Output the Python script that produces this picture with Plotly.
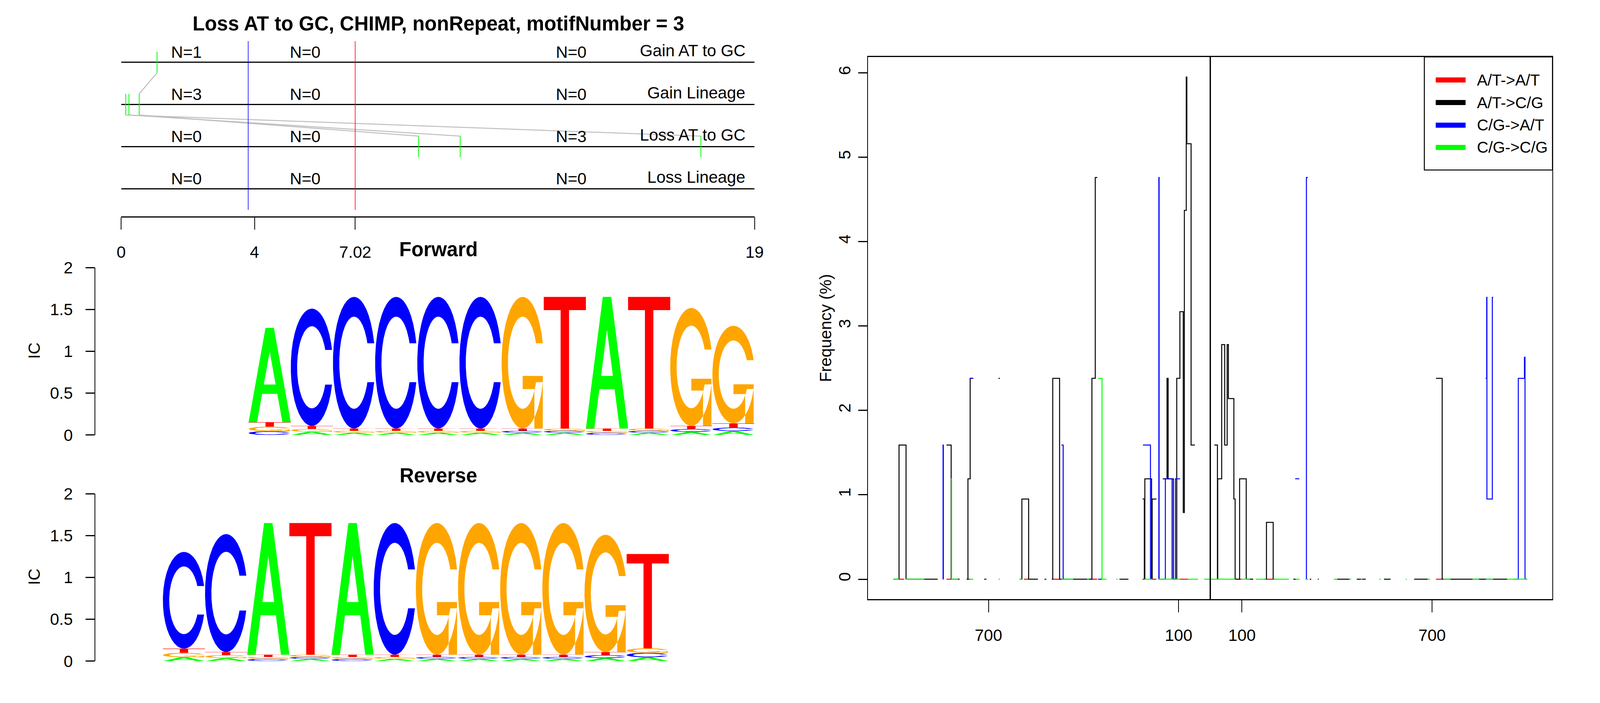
import numpy as np
import plotly.graph_objects as go

# the browser shows at most 4096 px in width, so the page is drawn to fill that
# window; every position below was read from the 5400x1800 original
REF_W, REF_H = 5400, 1800
FIG_W, FIG_H = 4080, 1784
SX, SY = FIG_W / REF_W, FIG_H / REF_H
FS = 0.88
FONT = "Liberation Sans, Arial, Helvetica, sans-serif"

# ---------------- top panel: events along the motif ----------------
row_names = ["Gain AT to GC", "Gain Lineage", "Loss AT to GC", "Loss Lineage"]
row_y = [4, 3, 2, 1]
n_counts = [[1, 0, 0], [3, 0, 0], [0, 0, 3], [0, 0, 0]]
n_text_x = [1.96, 5.52, 13.5]
site_x = [[1.075], [0.136, 0.233, 0.54], [8.92, 10.17, 17.39], []]
link_from_x = [1.075, 0.136, 0.233, 0.54]
link_from_row = [4, 3, 3, 3]
link_to_x = [0.54, 17.39, 10.17, 8.92]
link_to_row = [3, 2, 2, 2]
axis_ticks = [0, 4, 7.02, 19]
axis_labels = ["0", "4", "7.02", "19"]
motif_start = 3.81
motif_split = 7.02

# ---------------- sequence logos (bottom -> top stacks) ----------------
fwd_letters = ["CGTA", "AGTC", "AGTC", "AGTC", "AGTC", "AGTC",
               "ACTG", "ACGT", "CGTA", "ACGT", "ACTG", "ACTG"]
fwd_heights = [[0.045, 0.054, 0.054, 1.127], [0.039, 0.033, 0.036, 1.402],
               [0.027, 0.023, 0.027, 1.573], [0.027, 0.023, 0.027, 1.573],
               [0.027, 0.023, 0.027, 1.573], [0.027, 0.023, 0.027, 1.573],
               [0.027, 0.023, 0.027, 1.573], [0.027, 0.023, 0.027, 1.573],
               [0.027, 0.023, 0.027, 1.573], [0.027, 0.023, 0.027, 1.573],
               [0.036, 0.036, 0.036, 1.41], [0.046, 0.043, 0.05, 1.166]]
rev_letters = ["AGTC", "AGTC", "CGTA", "ACGT", "CGTA", "AGTC",
               "ACTG", "ACTG", "ACTG", "ACTG", "ACTG", "ACGT"]
rev_heights = [[0.045, 0.054, 0.05, 1.156], [0.036, 0.036, 0.036, 1.41],
               [0.027, 0.023, 0.027, 1.573], [0.027, 0.023, 0.027, 1.573],
               [0.027, 0.023, 0.027, 1.573], [0.027, 0.023, 0.027, 1.573],
               [0.027, 0.023, 0.027, 1.573], [0.027, 0.023, 0.027, 1.573],
               [0.027, 0.023, 0.027, 1.573], [0.027, 0.023, 0.027, 1.573],
               [0.036, 0.036, 0.036, 1.402], [0.045, 0.054, 0.054, 1.127]]
letter_colors = {"A": "#00FF00", "C": "#0000FF", "G": "#FFA500", "T": "#FF0000"}
ic_ticks = [0, 0.5, 1, 1.5, 2]
ic_labels = ["0", "0.5", "1", "1.5", "2"]

# ---------------- right panel: substitution frequency ----------------
series_names = ["A/T->A/T", "A/T->C/G", "C/G->A/T", "C/G->C/G"]
series_colors = ["#FF0000", "#000000", "#0000FF", "#00FF00"]

red_x = [-982, -966, None, -832.6, -817.8, None, -764.8, -757.8, None, -667, -665, None,
         -588.2, -573.3, None, -497.2, -475.6, None, -373.6, -356.6, None, -214, -208, None,
         -181.8, -170, None, -95.2, -70.4, None, 92.5, 98.5, None, 178.2, 198.5, None,
         712.4, 731.9]
red_y = [0, 0, None, 0, 0, None, 0, 0, None, 0, 0, None,
         0, 0, None, 0, 0, None, 0, 0, None, 0, 0, None,
         0, 0, None, 0, 0, None, 0, 0, None, 0, 0, None,
         0, 0]

black_x = [-1000, -982.3, -960.2, -860.2, None,
           -832.6, -817.8, -791.3, None,
           -769, -764.8, -757.8, -748, None,
           -713.6, -706.5, None,
           -668.4, -664.2, None,
           -602, -594.6, -573.3, -544, None,
           -523.3, -517.5, None,
           -500, -497.2, -475.6, -373.6, -363.0, -356.6, None,
           -286.6, -258.4, None,
           -213.5, -208.2, -206.5, -185.3, -183.5, -170.0, None,
           -149.9, -136.5, -133.0, -116.4, -105.8, -95.9, -85.3, -81.8, -75.8, -74.0, -60.6, -48.6, None,
           12.6, 22.6, 23.5, 36.0, 45.5, 53.3, 57.2, 74.5, 78.4, 92.5, 113.4, 135.6, None,
           170, 177.3, 198.5, 205, None,
           262, 270, None, 314, 318.6, None, 339.4, 342.3, None, 400.5, 439.4, None,
           462.4, 490.6, None, 548.2, 569, None, 643.5, 686, None,
           712.4, 731.9, 936.8]
black_y = [0, 1.59, 0, 0, None,
           1.59, 0, 0, None,
           0, 1.19, 2.38, 2.38, None,
           0, 0, None,
           2.38, 2.38, None,
           0, 0.95, 0, 0, None,
           0, 0, None,
           0, 2.38, 0, 2.38, 4.76, 4.76, None,
           0, 0, None,
           0.95, 0, 1.19, 0, 0.95, 0.95, None,
           1.19, 2.38, 1.19, 0, 2.38, 3.17, 0.79, 4.37, 5.95, 5.16, 1.59, 1.59, None,
           1.59, 0, 1.19, 2.78, 1.59, 2.78, 2.14, 0.95, 0, 1.19, 0, 0, None,
           0, 0.674, 0, 0, None,
           0, 0, None, 0, 0, None, 0, 0, None, 0, 0, None,
           0, 0, None, 0, 0, None, 0, 0, None,
           2.38, 0, 0]

blue_x = [-844, -843.3, -842.5, None,
          -757.8, -747.9, None,
          -469.7, -464.3, -460, None,
          -354.1, -342.5, None,
          -212.5, -188.8, -186, None,
          -164, -162.3, -161.5, -141.8, -120.6, -110.0, -95.2, None,
          268, 281, None,
          301, 303.4, 308, None,
          868.9, 872.4, 873.1, 890.1, 892.6, None,
          960, 972.1, 991.5, 993.3, 1000]
blue_y = [0, 1.59, 0, None,
          2.38, 2.38, None,
          1.59, 0, 0, None,
          0, 0, None,
          1.59, 0, 0, None,
          0, 4.76, 0, 1.19, 0, 1.19, 1.19, None,
          1.19, 1.19, None,
          0, 4.76, 4.76, None,
          2.38, 3.34, 0.95, 3.34, 3.34, None,
          0, 2.38, 2.63, 0, 0]

green_x = [-1000, -982, None, -962.6, -902.6, None, -842.5, -841.5, None,
           -818.5, -816.5, -796.6, None, -757.8, -747.9, None, -602.3, -594.6, None,
           -469.7, -432.6, None, -388.4, -383.1, None, -354.1, -341.7, -327.6, None,
           -296.5, -293.0, None, -208.2, -183.5, None, -164.0, -95.2, None,
           -70.4, -38.7, None, -19.2, 79.1, None, 98.5, 125, None, 143.4, 176.2, None,
           198.5, 248, None, 270.1, 282.2, None, 301.7, 308.7, None, 390, 400.5, None,
           441, 444.6, None, 474.7, 480, None, 533.7, 538.4, None, 617, 620, None,
           686, 693.4, None, 735.4, 758.3, None, 827.3, 848.4, None, 869.6, 892.6, None,
           936.8, 1000]
green_y = [0, 0, None, 0, 0, None, 0, 0, None,
           1.19, 0, 0, None, 0, 0, None, 0, 0, None,
           0, 0, None, 0, 0, None, 2.38, 0, 0, None,
           0, 0, None, 0, 0, None, 0, 0, None,
           0, 0, None, 0, 0, None, 0, 0, None, 0, 0, None,
           0, 0, None, 0, 0, None, 0, 0, None, 0, 0, None,
           0, 0, None, 0, 0, None, 0, 0, None, 0, 0, None,
           0, 0, None, 0, 0, None, 0, 0, None, 0, 0, None,
           0, 0]

freq_ticks = [-700, -100, 100, 700]
freq_tick_labels = ["700", "100", "100", "700"]
freq_yticks = [0, 1, 2, 3, 4, 5, 6]


def fx(p):
    return p / REF_W


def fy(p):
    return 1 - p / REF_H


def fs(size):
    return round(size * FS, 1)


def label(text, x, y, size, xref="paper", yref="paper", xanchor="center", angle=0):
    return dict(text=text, x=x, y=y, xref=xref, yref=yref, xanchor=xanchor, yanchor="middle",
                textangle=angle, showarrow=False, font=dict(size=fs(size)))


# seqLogo letter outlines in a unit box
def glyph(letter):
    if letter == "A":
        return [([0, .4, .6, 1, .8, .68, .32, .2, 0], [0, 1, 1, 0, 0, .3, .3, 0, 0], False),
                ([.36, .5, .64, .36], [.4, .75, .4, .4], True)]
    if letter == "T":
        return [([0, 1, 1, .6, .6, .4, .4, 0], [1, 1, .9, .9, 0, 0, .9, .9], False)]
    a1 = np.linspace(0.3 + np.pi / 2, np.pi, 100)
    a2 = np.linspace(np.pi, 1.5 * np.pi, 100)
    xl = np.r_[0.5 + 0.5 * np.sin(a1), 0.5 + 0.5 * np.sin(a2)]
    yl = np.r_[0.5 + 0.5 * np.cos(a1), 0.5 + 0.5 * np.cos(a2)]
    top = (0.5 + 0.5 * np.cos(a1)).max()
    xi1 = 0.5 + 0.35 * np.sin(a1)
    yi1 = 0.5 + 0.35 * np.cos(a1)
    keep = yi1 <= top
    xi1, yi1 = xi1[keep], yi1[keep]
    yi1[0] = top
    xi = np.r_[xi1, 0.5 + 0.35 * np.sin(a2)]
    yi = np.r_[yi1, 0.5 + 0.35 * np.cos(a2)]
    xo, yo = np.r_[xl, xl[::-1]], np.r_[yl, 1 - yl[::-1]]
    xn, yn = np.r_[xi, xi[::-1]], np.r_[yi, 1 - yi[::-1]]
    ring = (list(np.r_[xo, xn[::-1]]), list(np.r_[yo, yn[::-1]]), False)
    if letter == "C":
        return [ring]
    r1 = (0.5 + 0.5 * np.sin(a1)).max()
    bar = ([r1, .5, .5, r1 - .2, r1 - .2, r1, r1], [.4, .4, .3, .3, 0, 0, .4], False)
    return [ring, bar]


def logo_traces(letters, heights, xa, ya):
    fills = {c: ([], []) for c in "ACGT"}
    holes = ([], [])
    for col, (stack, hs) in enumerate(zip(letters, heights)):
        base = 0.0
        for ch, h in zip(stack, hs):
            for gx, gy, hole in glyph(ch):
                tgt = holes if hole else fills[ch]
                tgt[0].extend([col + v for v in gx] + [None])
                tgt[1].extend([base + h * v for v in gy] + [None])
            base += h
    out = []
    for ch in "ACGT":
        out.append(go.Scatter(x=fills[ch][0], y=fills[ch][1], mode="lines", fill="toself",
                              fillcolor=letter_colors[ch], line=dict(width=0, color=letter_colors[ch]),
                              xaxis=xa, yaxis=ya, hoverinfo="skip", showlegend=False))
    out.append(go.Scatter(x=holes[0], y=holes[1], mode="lines", fill="toself", fillcolor="white",
                          line=dict(width=0, color="white"), xaxis=xa, yaxis=ya,
                          hoverinfo="skip", showlegend=False))
    return out


fig = go.Figure()

# row baselines
lx, ly = [], []
for r in row_y:
    lx += [axis_ticks[0], axis_ticks[-1], None]
    ly += [r, r, None]
fig.add_trace(go.Scatter(x=lx, y=ly, mode="lines", line=dict(color="black", width=3),
                         xaxis="x", yaxis="y", hoverinfo="skip", showlegend=False))
# grey links between events
gx, gy = [], []
for x0, r0, x1, r1 in zip(link_from_x, link_from_row, link_to_x, link_to_row):
    gx += [x0, x1, None]
    gy += [r0 - 0.25, r1 + 0.25, None]
fig.add_trace(go.Scatter(x=gx, y=gy, mode="lines", line=dict(color="#BEBEBE", width=2.5),
                         xaxis="x", yaxis="y", hoverinfo="skip", showlegend=False))
# motif markers
fig.add_trace(go.Scatter(x=[motif_start, motif_start], y=[0.5, 4.5], mode="lines",
                         line=dict(color="#0000FF", width=1.6), xaxis="x", yaxis="y",
                         hoverinfo="skip", showlegend=False))
fig.add_trace(go.Scatter(x=[motif_split, motif_split], y=[0.5, 4.5], mode="lines",
                         line=dict(color="#FF0000", width=1.6), xaxis="x", yaxis="y",
                         hoverinfo="skip", showlegend=False))
# event ticks
tx, ty = [], []
for r, xs in zip(row_y, site_x):
    for s in xs:
        tx += [s, s, None]
        ty += [r - 0.25, r + 0.25, None]
fig.add_trace(go.Scatter(x=tx, y=ty, mode="lines", line=dict(color="#00FF00", width=2),
                         xaxis="x", yaxis="y", hoverinfo="skip", showlegend=False))

# logos
for t in logo_traces(fwd_letters, fwd_heights, "x2", "y2"):
    fig.add_trace(t)
for t in logo_traces(rev_letters, rev_heights, "x3", "y3"):
    fig.add_trace(t)

# frequency step lines
for xs, ys, name, col in zip([red_x, black_x, blue_x, green_x], [red_y, black_y, blue_y, green_y],
                             series_names, series_colors):
    fig.add_trace(go.Scatter(x=xs, y=ys, mode="lines", name=name,
                             line=dict(color=col, width=2.5, shape="hv"),
                             connectgaps=False, xaxis="x4", yaxis="y4", hoverinfo="skip", showlegend=False))

ann = [
    label("<b>Loss AT to GC, CHIMP, nonRepeat, motifNumber = 3</b>", fx(1472), fy(31), 58),
    label("<b>Forward</b>", fx(1472), fy(630), 58),
    label("<b>Reverse</b>", fx(1472), fy(1230), 58),
    label("IC", fx(90), fy(898), 48, angle=-90),
    label("IC", fx(90), fy(1498), 48, angle=-90),
    label("Frequency (%)", fx(2795), fy(838), 48, angle=-90),
]
for r, counts, name in zip(row_y, n_counts, row_names):
    for xx, n in zip(n_text_x, counts):
        ann.append(label("N=%d" % n, xx, r + 0.24, 48, xref="x", yref="y"))
    ann.append(label(name, 18.75, r + 0.28, 48, xref="x", yref="y", xanchor="right"))

# legend box for the frequency panel
shapes = [dict(type="rect", xref="paper", yref="paper", x0=fx(4841), x1=fx(5279), y0=fy(419), y1=fy(119),
               line=dict(color="black", width=2.5))]
for name, col, yy in zip(series_names, series_colors, [180, 240, 300, 359]):
    shapes.append(dict(type="line", xref="paper", yref="paper", x0=fx(4880), x1=fx(4982), y0=fy(yy), y1=fy(yy),
                       line=dict(color=col, width=13)))
    ann.append(label(name, fx(5018), fy(yy), 46, xanchor="left"))
# divider between upstream and downstream
shapes.append(dict(type="line", xref="x4", yref="y4 domain", x0=0, x1=0, y0=0, y1=1,
                   line=dict(color="black", width=3.4)))

axis_common = dict(showgrid=False, zeroline=False, color="black", linecolor="black",
                   tickcolor="black", tickfont=dict(size=fs(48), color="black"))
xtick_len = round(31 * SY)
ytick_len = round(30 * SX)

fig.update_layout(
    width=FIG_W, height=FIG_H, autosize=False,
    margin=dict(l=0, r=0, t=0, b=0),
    paper_bgcolor="white", plot_bgcolor="white",
    font=dict(family=FONT, color="black"),
    showlegend=False,
    annotations=ann, shapes=shapes,
    xaxis=dict(domain=[fx(387.5), fx(2552)], range=[0, 19], anchor="y", tickvals=axis_ticks,
               ticktext=axis_labels, ticks="outside", ticklen=xtick_len, tickwidth=2.3, showline=True,
               linewidth=3, ticklabelstandoff=21, **axis_common),
    yaxis=dict(domain=[fy(542), fy(60)], range=[0.348, 4.652], anchor="x", visible=False),
    xaxis2=dict(domain=[fx(299), fx(2552)], range=[-3.637, 12], anchor="y2", visible=False),
    yaxis2=dict(domain=[fy(1122), fy(678)], range=[0, 2], anchor="x2", tickvals=ic_ticks,
                ticktext=ic_labels, ticks="outside", ticklen=ytick_len, tickwidth=2.5, showline=True,
                linewidth=2, ticklabelstandoff=24, **axis_common),
    xaxis3=dict(domain=[fx(299), fx(2552)], range=[-1.603, 14.034], anchor="y3", visible=False),
    yaxis3=dict(domain=[fy(1722), fy(1278)], range=[0, 2], anchor="x3", tickvals=ic_ticks,
                ticktext=ic_labels, ticks="outside", ticklen=ytick_len, tickwidth=2.5, showline=True,
                linewidth=2, ticklabelstandoff=24, **axis_common),
    xaxis4=dict(domain=[fx(2940), fx(5279)], range=[-1080, 1080], anchor="y4", tickvals=freq_ticks,
                ticktext=freq_tick_labels, ticks="outside", ticklen=xtick_len, tickwidth=2.3, showline=True,
                mirror=True, linewidth=3, ticklabelstandoff=22, **axis_common),
    yaxis4=dict(domain=[fy(1558), fy(119)], range=[-0.238, 6.188], anchor="x4", tickvals=freq_yticks,
                ticks="outside", ticklen=ytick_len, tickwidth=3, showline=True, mirror=True, linewidth=2.3,
                tickangle=-90, ticklabelstandoff=3, **axis_common),
)

fig.write_html("out.html")
